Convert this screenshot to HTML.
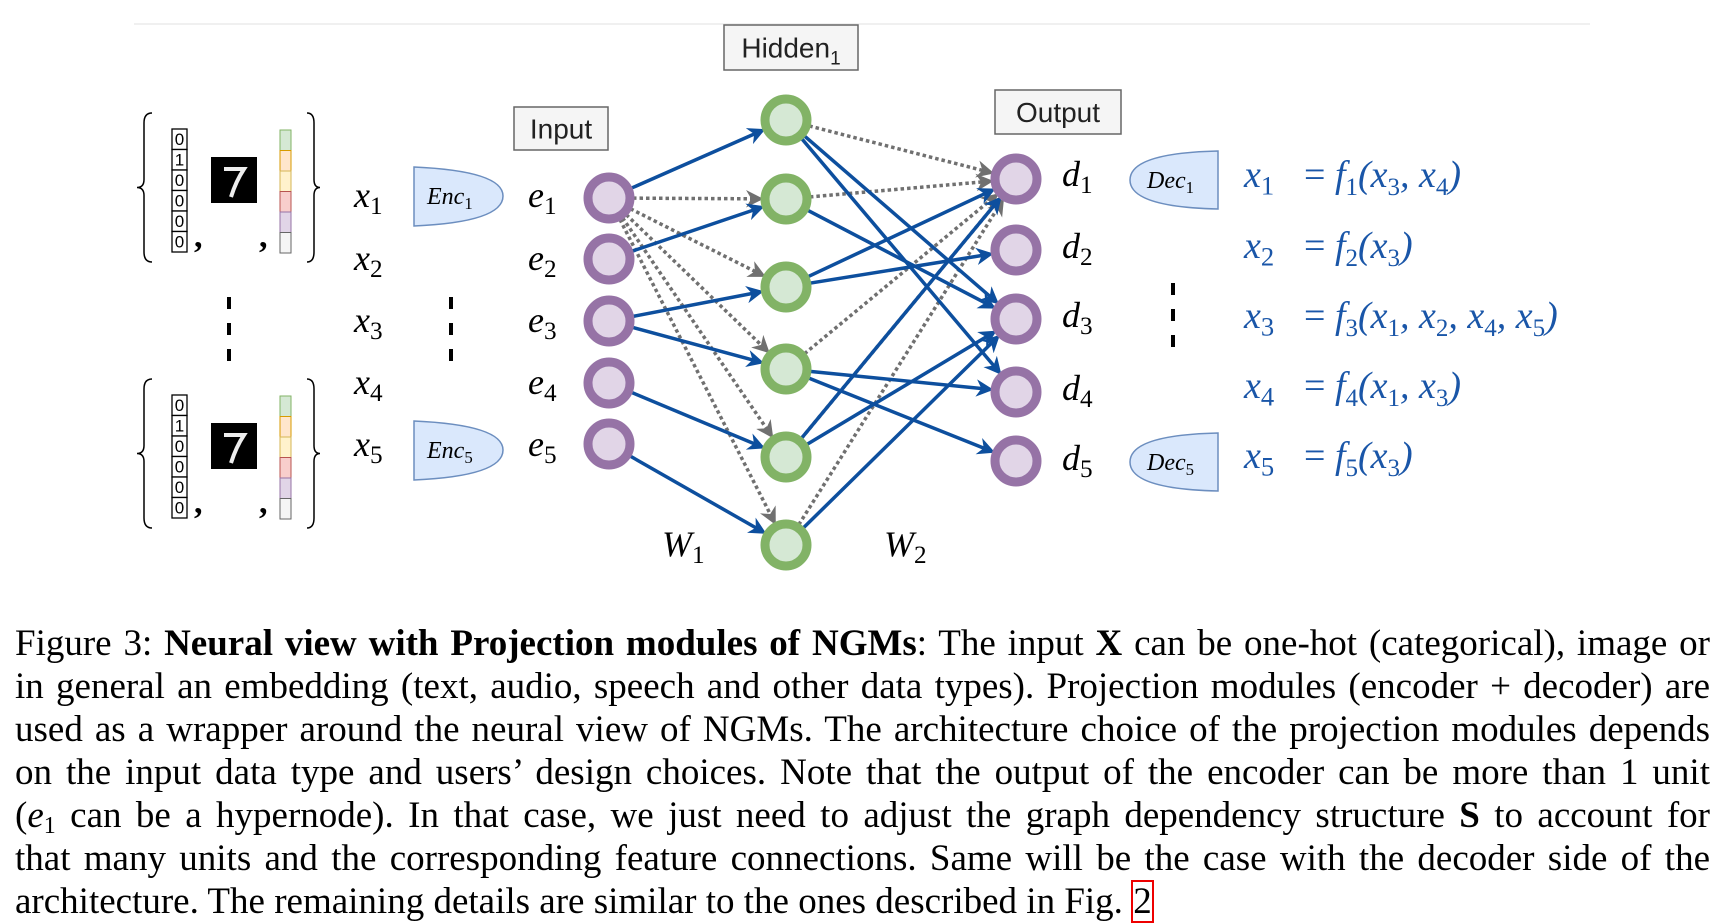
<!DOCTYPE html>
<html><head><meta charset="utf-8"><style>
html,body{margin:0;padding:0;background:#fff;width:1723px;height:923px;overflow:hidden}
.cap{position:absolute;left:15px;width:1695px;font-family:"Liberation Serif",serif;font-size:37px;color:#000;text-align:justify;text-align-last:justify;white-space:nowrap;line-height:43px}
.cap.last{text-align-last:left}
</style></head><body>
<svg id="s" width="1723" height="923" style="position:absolute;left:0;top:0" font-family="Liberation Serif, serif">
<defs>
<marker id="ab" viewBox="0 0 10 10" refX="8" refY="5" markerWidth="5" markerHeight="5" orient="auto"><path d="M0,0 L10,5 L0,10 L3,5z" fill="#0d4f9e"/></marker>
<marker id="ag" viewBox="0 0 10 10" refX="8" refY="5" markerWidth="5" markerHeight="5" orient="auto"><path d="M0,0 L10,5 L0,10 L3,5z" fill="#707070"/></marker>
</defs>
<line x1="134" y1="24" x2="1590" y2="24" stroke="#f0f0f0" stroke-width="2"/>
<g id="edges"></g>
<g id="nodes"></g>
</svg>
<script>
const S=document.getElementById('s'),E=document.getElementById('edges'),N=document.getElementById('nodes');
const ns='http://www.w3.org/2000/svg';
function el(t,a,p){const e=document.createElementNS(ns,t);for(const k in a)e.setAttribute(k,a[k]);(p||S).appendChild(e);return e}
const IN=[[609,198],[609,259],[609,321],[609,383],[609,444]];
const HID=[[786,120],[786,199],[786,287],[786,369],[786,457],[786,545]];
const OUT=[[1016,179],[1016,250],[1016,319],[1016,392],[1016,461]];
function edge(a,b,solid){const dx=b[0]-a[0],dy=b[1]-a[1],L=Math.hypot(dx,dy),r=24;
 const x1=a[0]+dx/L*r,y1=a[1]+dy/L*r,x2=b[0]-dx/L*(r+2),y2=b[1]-dy/L*(r+2);
 if(solid)el('line',{x1,y1,x2,y2,stroke:'#0d4f9e','stroke-width':3.5,'marker-end':'url(#ab)'},E);
 else el('line',{x1,y1,x2,y2,stroke:'#707070','stroke-width':3.5,'stroke-dasharray':'3.5 3','marker-end':'url(#ag)'},E);}
[[0,1],[0,2],[0,3],[0,4],[0,5]].forEach(p=>edge(IN[p[0]],HID[p[1]],0));
[[0,0],[1,1],[2,2],[2,3],[3,4],[4,5]].forEach(p=>edge(IN[p[0]],HID[p[1]],1));
[[0,0],[1,0],[3,0],[4,0],[5,0]].forEach(p=>edge(HID[p[0]],OUT[p[1]],0));
[[0,2],[0,3],[1,2],[2,0],[2,1],[3,3],[3,4],[4,0],[4,2],[5,2]].forEach(p=>edge(HID[p[0]],OUT[p[1]],1));
function node(c,st,fi){el('circle',{cx:c[0],cy:c[1],r:21,fill:fi,stroke:st,'stroke-width':9},N)}
IN.forEach(c=>node(c,'#9673a6','#e1d5e7'));OUT.forEach(c=>node(c,'#9673a6','#e1d5e7'));HID.forEach(c=>node(c,'#82b366','#d5e8d4'));
function box(x,y,w,h,t){el('rect',{x,y,width:w,height:h,fill:'#f5f5f5',stroke:'#666','stroke-width':1.5});
 const tx=el('text',{x:x+w/2,y:y+h/2+10,'text-anchor':'middle','font-family':'Liberation Sans, sans-serif','font-size':28,fill:'#222'});tx.innerHTML=t}
box(724,25,134,45,'Hidden<tspan font-size="19" dy="7">1</tspan>');
box(514,107,94,43,'Input');box(995,90,126,44,'Output');
function lab(x,y,b,s,col,fs){fs=fs||34;const t=el('text',{x,y,'font-style':'italic','font-size':fs,fill:col||'#000'});t.innerHTML=b+'<tspan font-style="normal" font-size="'+(fs*0.7)+'" dy="'+(fs*0.2)+'">'+s+'</tspan>';return t}
[207,270,332,394,456].forEach((y,i)=>lab(354,y,'x',i+1,'#000',36));
[207,270,332,394,456].forEach((y,i)=>lab(528,y,'e',i+1,'#000',36));
[186,258,327,400,470].forEach((y,i)=>lab(1062,y,'d',i+1,'#000',36));
lab(662,556,'W',1,'#000',36);lab(884,556,'W',2,'#000',36);
function enc(y){el('path',{d:`M414,${y} Q503,${y+4} 503,${y+29} Q503,${y+55} 414,${y+59} Z`,fill:'#dae8fc',stroke:'#6c8ebf','stroke-width':1.5});}
enc(167);enc(421);
function dec(y){el('path',{d:`M1218,${y} L1218,${y+58} Q1130,${y+56} 1130,${y+29} Q1130,${y+2} 1218,${y} Z`,fill:'#dae8fc',stroke:'#6c8ebf','stroke-width':1.5});}
dec(151);dec(433);
lab(427,204,'Enc',1,'#000',24);lab(427,458,'Enc',5,'#000',24);
lab(1147,188,'Dec',1,'#000',24);lab(1147,470,'Dec',5,'#000',24);
[[229,297,364],[451,297,364],[1173,283,350]].forEach(d=>el('line',{x1:d[0],y1:d[1],x2:d[0],y2:d[2],stroke:'#000','stroke-width':4,'stroke-dasharray':'12 14'}));
const sub=n=>'<tspan font-style="normal" font-size="25" dy="8">'+n+'</tspan><tspan dy="-8">';
const eq=[[187,1,'(x'+sub(3)+', x</tspan>'+sub(4)+')</tspan>'],
[258,2,'(x'+sub(3)+')</tspan>'],
[328,3,'(x'+sub(1)+', x</tspan>'+sub(2)+', x</tspan>'+sub(4)+', x</tspan>'+sub(5)+')</tspan>'],
[398,4,'(x'+sub(1)+', x</tspan>'+sub(3)+')</tspan>'],
[468,5,'(x'+sub(3)+')</tspan>']];
eq.forEach((q,i)=>{lab(1244,q[0],'x',i+1,'#1a56a8',38);
 const t=el('text',{x:1304,y:q[0],'font-size':38,fill:'#1a56a8'});t.innerHTML='= <tspan font-style="italic">f</tspan><tspan font-size="25" dy="8">'+q[1]+'</tspan><tspan dy="-8" font-style="italic">'+q[2]+'</tspan>';});
function grp(y0){const y1=y0+149,m=(y0+y1)/2;
 el('path',{d:`M152,${y0} Q144,${y0} 144,${y0+10} L144,${m-8} Q144,${m} 137,${m} Q144,${m} 144,${m+8} L144,${y1-10} Q144,${y1} 152,${y1}`,fill:'none',stroke:'#000','stroke-width':1.5});
 el('path',{d:`M307,${y0} Q314,${y0} 314,${y0+10} L314,${m-8} Q314,${m} 320,${m} Q314,${m} 314,${m+8} L314,${y1-10} Q314,${y1} 307,${y1}`,fill:'none',stroke:'#000','stroke-width':1.5});
 [0,1,0,0,0,0].forEach((v,i)=>{el('rect',{x:172,y:y0+16+i*20.5,width:15,height:20.5,fill:'#fff',stroke:'#000','stroke-width':1.3});
  const t=el('text',{x:179.5,y:y0+32+i*20.5,'text-anchor':'middle','font-family':'Liberation Sans, sans-serif','font-size':17});t.textContent=v;});
 el('rect',{x:211,y:y0+44,width:46,height:46,fill:'#000'});
 el('path',{d:`M224,${y0+56} L244,${y0+56} Q236,${y0+68} 231,${y0+84}`,fill:'none',stroke:'#eee','stroke-width':4});
 const cols=[['#d5e8d4','#82b366'],['#ffe6cc','#d79b00'],['#fff2cc','#d6b656'],['#f8cecc','#b85450'],['#e1d5e7','#9673a6'],['#f5f5f5','#666']];
 cols.forEach((c,i)=>el('rect',{x:280,y:y0+17+i*20.5,width:11,height:20.5,fill:c[0],stroke:c[1],'stroke-width':1}));
 const c1=el('text',{x:194,y:y0+134,'font-size':34,'font-weight':'bold'});c1.textContent=',';
 const c2=el('text',{x:259,y:y0+134,'font-size':34,'font-weight':'bold'});c2.textContent=',';}
grp(113);grp(379);
</script>
<div class="cap" style="top:622px">Figure 3: <b>Neural view with Projection modules of NGMs</b>: The input <b>X</b> can be one-hot (categorical), image or</div>
<div class="cap" style="top:665px">in general an embedding (text, audio, speech and other data types). Projection modules (encoder + decoder) are</div>
<div class="cap" style="top:708px">used as a wrapper around the neural view of NGMs. The architecture choice of the projection modules depends</div>
<div class="cap" style="top:751px">on the input data type and users’ design choices. Note that the output of the encoder can be more than 1 unit</div>
<div class="cap" style="top:794px">(<i>e</i><span style="font-size:24px;position:relative;top:6px">1</span> can be a hypernode). In that case, we just need to adjust the graph dependency structure <b>S</b> to account for</div>
<div class="cap" style="top:837px">that many units and the corresponding feature connections. Same will be the case with the decoder side of the</div>
<div class="cap last" style="top:880px">architecture. The remaining details are similar to the ones described in Fig. <span style="outline:2px solid #e00;outline-offset:-1px;padding:0 1px">2</span></div>
</body></html>
